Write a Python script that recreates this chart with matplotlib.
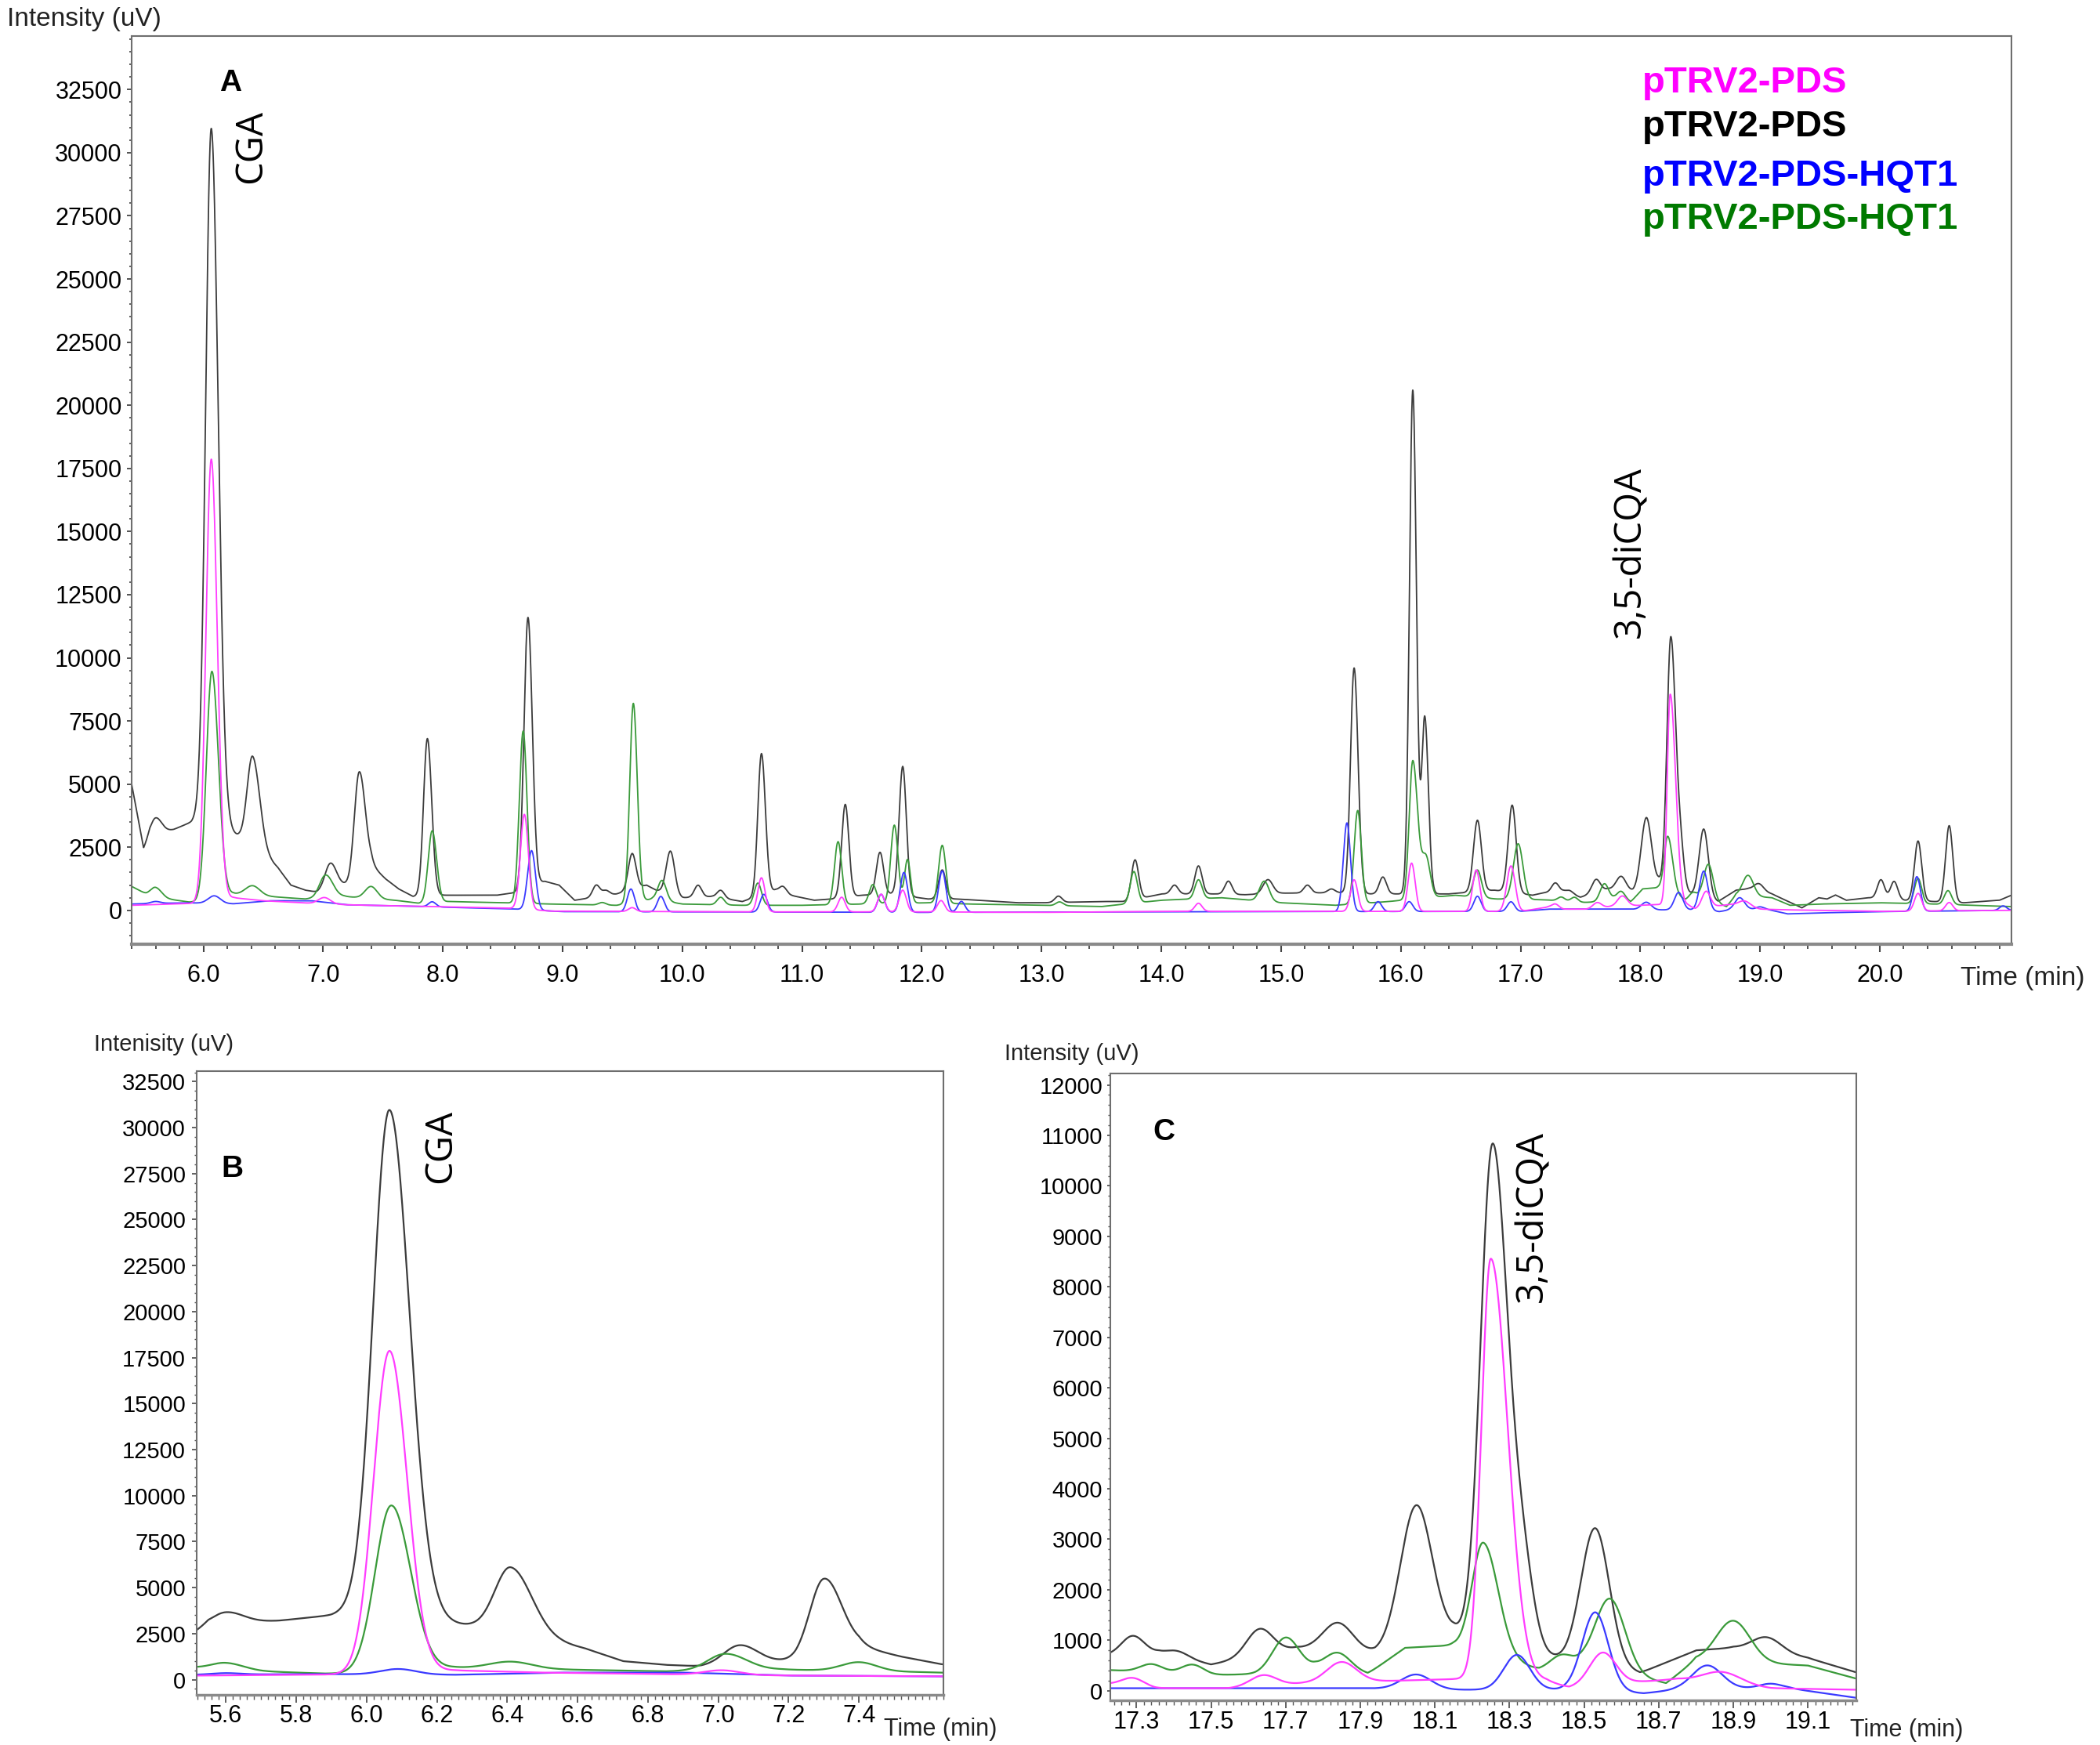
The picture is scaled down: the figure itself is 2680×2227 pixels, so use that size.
import numpy as np
import matplotlib
matplotlib.use("Agg")
import matplotlib.pyplot as plt
from matplotlib.ticker import MultipleLocator, FixedLocator

plt.rcParams["font.family"] = ["Liberation Sans", "DejaVu Sans"]

W, H = 2680, 2227

# ---- chromatogram data ----------------------------------------------------
# each trace = baseline knots (min, uV) + peak table (rt, height above
# baseline, left sigma, right sigma)

black_base_t = [5.40, 5.50, 5.55, 5.75, 5.90, 5.98, 6.30, 6.55, 6.62, 6.73, 6.85, 6.95,
                7.12, 7.22, 7.40, 7.52, 7.63, 7.75, 7.95, 8.45, 8.60, 8.85, 8.97, 9.10,
                9.45, 9.70, 9.78, 10.00, 10.25, 10.50, 10.78, 10.90, 11.10, 11.25, 11.50,
                11.75, 12.05, 12.30, 12.80, 13.00, 13.50, 13.70, 14.00, 14.45, 14.70,
                15.00, 15.50, 15.75, 16.00, 16.40, 16.78, 17.10, 17.20, 17.36, 17.50,
                17.73, 17.94, 18.15, 18.45, 18.65, 18.80, 18.90, 19.10, 19.35, 19.49,
                19.56, 19.63, 19.72, 19.90, 20.20, 20.45, 20.70, 21.00, 21.10]
black_base_v = [5000, 2450, 2950, 3200, 3500, 3800, 2900, 2000, 1700, 1000, 800, 720,
                950, 1050, 1800, 1250, 850, 550, 600, 600, 700, 1150, 1000, 400,
                650, 1000, 800, 500, 550, 350, 800, 600, 400, 450, 600,
                650, 450, 450, 300, 300, 350, 350, 650, 650, 620,
                680, 700, 650, 650, 650, 800, 600, 700, 750, 520,
                850, 750, 1150, 600, 350, 800, 850, 650, 100, 500,
                450, 610, 400, 500, 400, 350, 300, 400, 600]
black_rt = [5.60, 6.065, 6.41, 7.06, 7.30, 7.87, 8.71, 9.28, 9.36, 9.58, 9.90, 10.13,
            10.32, 10.66, 10.84, 11.36, 11.65, 11.84, 12.17, 13.14, 13.78, 14.11, 14.31,
            14.56, 14.89, 15.22, 15.42, 15.61, 15.85, 16.10, 16.20, 16.64, 16.93, 17.29,
            17.41, 17.63, 17.84, 18.05, 18.255, 18.335, 18.53, 18.99, 20.01, 20.12,
            20.32, 20.58]
black_h = [650, 27400, 3600, 1000, 4100, 6220, 10700, 470, 200, 1420, 1710, 470,
           300, 5600, 250, 3680, 1670, 5110, 1150, 250, 1570, 350, 1110,
           520, 560, 310, 150, 8920, 670, 19950, 6970, 2825, 3460, 360,
           120, 520, 550, 2715, 9840, 1500, 2720, 300, 750, 720,
           2370, 3030]
black_wl = [0.040, 0.046, 0.045, 0.045, 0.040, 0.032, 0.033, 0.030, 0.030, 0.032, 0.035, 0.030,
            0.030, 0.030, 0.030, 0.030, 0.030, 0.030, 0.030, 0.030, 0.030, 0.030, 0.030,
            0.030, 0.040, 0.030, 0.030, 0.030, 0.030, 0.028, 0.025, 0.033, 0.033, 0.030,
            0.030, 0.035, 0.040, 0.042, 0.032, 0.030, 0.038, 0.040, 0.030, 0.030,
            0.030, 0.030]
black_wr = [0.050, 0.057, 0.060, 0.050, 0.050, 0.036, 0.036, 0.030, 0.030, 0.032, 0.035, 0.030,
            0.030, 0.033, 0.030, 0.030, 0.030, 0.030, 0.030, 0.030, 0.030, 0.030, 0.030,
            0.030, 0.040, 0.030, 0.030, 0.033, 0.030, 0.030, 0.030, 0.033, 0.033, 0.030,
            0.030, 0.035, 0.040, 0.042, 0.040, 0.030, 0.038, 0.040, 0.030, 0.030,
            0.030, 0.030]

green_base_t = [5.40, 5.52, 5.70, 5.88, 6.00, 6.25, 6.55, 6.85, 7.18, 7.30, 7.60, 7.80,
                8.05, 8.50, 8.90, 9.45, 9.75, 10.00, 10.50, 11.00, 11.50, 12.05, 12.40,
                13.00, 13.50, 14.00, 14.50, 15.00, 15.45, 15.90, 16.45, 16.80, 17.20,
                17.50, 17.62, 17.78, 17.92, 18.02, 18.15, 18.38, 18.50, 18.72, 18.80,
                19.10, 19.25, 19.50, 20.00, 20.45, 21.10]
green_base_v = [950, 650, 450, 330, 320, 650, 550, 450, 550, 500, 400, 280,
                350, 300, 250, 200, 450, 250, 200, 200, 250, 300, 250,
                200, 150, 400, 500, 300, 200, 350, 600, 450, 420,
                310, 330, 450, 330, 850, 900, 420, 500, 150, 600,
                500, 200, 250, 300, 250, 150]
green_rt = [5.60, 6.07, 6.41, 7.02, 7.40, 7.91, 8.67, 9.33, 9.59, 9.83, 10.32, 10.63,
            11.30, 11.59, 11.77, 11.88, 12.17, 13.15, 13.77, 14.31, 14.86, 15.64, 16.10,
            16.21, 16.64, 16.98, 17.34, 17.45, 17.70, 17.84, 18.23, 18.44, 18.57, 18.90,
            20.32, 20.57]
green_h = [350, 9050, 380, 900, 480, 2840, 6820, 100, 7880, 800, 300, 880,
           2490, 760, 3100, 1730, 2290, 150, 1255, 750, 800, 3690, 5480,
           1600, 1080, 2200, 160, 190, 665, 355, 2200, 250, 1435, 820,
           1000, 550]
green_wl = [0.040, 0.046, 0.060, 0.050, 0.050, 0.033, 0.032, 0.030, 0.030, 0.035, 0.030, 0.030,
            0.030, 0.030, 0.030, 0.025, 0.030, 0.030, 0.030, 0.030, 0.040, 0.030, 0.030,
            0.035, 0.033, 0.040, 0.030, 0.030, 0.035, 0.035, 0.030, 0.030, 0.040, 0.045,
            0.030, 0.030]
green_wr = [0.050, 0.055, 0.060, 0.060, 0.050, 0.037, 0.032, 0.030, 0.033, 0.035, 0.030, 0.030,
            0.030, 0.030, 0.030, 0.025, 0.030, 0.030, 0.030, 0.030, 0.040, 0.030, 0.040,
            0.035, 0.033, 0.040, 0.030, 0.030, 0.035, 0.035, 0.040, 0.030, 0.040, 0.045,
            0.030, 0.030]

magenta_base_t = [5.40, 5.95, 6.25, 6.50, 6.90, 7.20, 7.60, 8.60, 8.90, 10.50, 12.00, 13.00,
                  14.00, 17.00, 17.23, 17.35, 17.55, 17.75, 18.00, 18.15, 18.40, 18.46,
                  18.65, 18.75, 19.00, 19.23, 20.00, 21.10]
magenta_base_v = [200, 280, 500, 380, 280, 220, 180, 80, -30, -60, -60, -80,
                  -40, -40, 130, 50, 50, 150, 200, 230, 200, 60,
                  180, 230, 50, 20, -40, 0]
magenta_rt = [6.065, 7.01, 8.68, 9.58, 10.66, 11.33, 11.66, 11.84, 12.16, 14.31, 15.61,
              16.09, 16.63, 16.92, 17.29, 17.64, 17.85, 18.25, 18.55, 18.87, 20.32, 20.58]
magenta_h = [17500, 250, 3750, 150, 1350, 580, 700, 860, 450, 320, 1250,
             1910, 1640, 1800, 165, 215, 400, 8340, 640, 230, 700, 330]
magenta_wl = [0.045, 0.050, 0.033, 0.030, 0.030, 0.030, 0.030, 0.030, 0.030, 0.030, 0.030,
              0.030, 0.030, 0.035, 0.030, 0.035, 0.040, 0.025, 0.035, 0.050, 0.030, 0.030]
magenta_wr = [0.050, 0.050, 0.033, 0.030, 0.030, 0.030, 0.030, 0.030, 0.030, 0.030, 0.030,
              0.030, 0.030, 0.035, 0.030, 0.035, 0.040, 0.045, 0.035, 0.050, 0.030, 0.030]

blue_base_t = [5.40, 5.85, 6.25, 6.55, 6.90, 7.20, 7.60, 8.60, 9.00, 12.00, 15.00, 17.00,
               17.23, 17.90, 18.15, 18.45, 18.66, 18.75, 18.95, 19.05, 19.23, 19.50,
               20.00, 21.10]
blue_base_v = [250, 300, 260, 380, 380, 220, 180, 50, -50, -80, -50, -40,
               50, 50, 20, 20, -50, 20, 50, 50, -140, -100,
               -50, 0]
blue_rt = [5.60, 6.09, 7.91, 8.74, 9.57, 9.82, 10.68, 11.66, 11.85, 12.17, 12.33, 15.55,
           15.81, 16.07, 16.64, 16.92, 18.05, 18.32, 18.53, 18.83, 19.00, 20.31, 21.03]
blue_h = [80, 300, 200, 2350, 900, 610, 700, 710, 1580, 1640, 430, 3510,
          390, 390, 600, 380, 290, 690, 1560, 470, 90, 1370, 180]
blue_wl = [0.040, 0.050, 0.030, 0.033, 0.030, 0.030, 0.030, 0.030, 0.030, 0.030, 0.030, 0.030,
           0.030, 0.030, 0.030, 0.030, 0.040, 0.035, 0.035, 0.040, 0.030, 0.030, 0.030]
blue_wr = blue_wl

# ---- styling --------------------------------------------------------------
LINE_COLORS = {"black": "#3c3c3c", "green": "#3a9a3a", "blue": "#3a3aff", "magenta": "#ff3dff"}
LEGEND = [("pTRV2-PDS", "#ff00ff"), ("pTRV2-PDS", "#000000"),
          ("pTRV2-PDS-HQT1", "#0000ff"), ("pTRV2-PDS-HQT1", "#007a00")]


def trace(t, base_t, base_v, rt, h, wl, wr):
    y = np.interp(t, base_t, base_v)
    for r, a, sl, sr in zip(rt, h, wl, wr):
        s = np.where(t < r, sl, sr)
        y = y + a * np.exp(-0.5 * ((t - r) / s) ** 2)
    return y


t = np.linspace(5.40, 21.10, 12001)
traces = {
    "black": trace(t, black_base_t, black_base_v, black_rt, black_h, black_wl, black_wr),
    "green": trace(t, green_base_t, green_base_v, green_rt, green_h, green_wl, green_wr),
    "blue": trace(t, blue_base_t, blue_base_v, blue_rt, blue_h, blue_wl, blue_wr),
    "magenta": trace(t, magenta_base_t, magenta_base_v, magenta_rt, magenta_h, magenta_wl, magenta_wr),
}


def fx(x):
    return x / W


def fy(y):
    return 1 - y / H


def axes_px(fig, left, top, right, bottom):
    return fig.add_axes([fx(left), fy(bottom), (right - left) / W, (bottom - top) / H])


def style(ax, lw_bottom=3.0):
    for s in ax.spines.values():
        s.set_color("#6e6e6e")
        s.set_linewidth(1.5)
    ax.spines["bottom"].set_linewidth(lw_bottom)
    ax.spines["bottom"].set_color("#8a8a8a")


fig = plt.figure(figsize=(W / 100, H / 100), dpi=100)

# ---------------- panel A ----------------
axA = axes_px(fig, 168, 46, 2567, 1205)
for key in ["black", "green", "blue", "magenta"]:
    axA.plot(t, traces[key], color=LINE_COLORS[key], lw=1.3)
axA.set_xlim(5.40, 21.10)
axA.set_ylim(-1340, 34620)
axA.xaxis.set_major_locator(FixedLocator(np.arange(6, 21, 1.0)))
axA.xaxis.set_minor_locator(MultipleLocator(0.2))
axA.xaxis.set_major_formatter(matplotlib.ticker.FormatStrFormatter("%.1f"))
axA.yaxis.set_major_locator(FixedLocator(np.arange(0, 32501, 2500)))
axA.yaxis.set_minor_locator(MultipleLocator(500))
axA.tick_params(axis="x", which="major", length=7, width=1.5, pad=11, labelsize=22, color="#444444")
axA.tick_params(axis="x", which="minor", length=4, width=1.3, color="#444444")
axA.tick_params(axis="y", which="major", length=4, width=1.3, pad=5, labelsize=22, color="#444444")
axA.tick_params(axis="y", which="minor", length=2, width=1.2, color="#444444")
style(axA)

# ---------------- panel B ----------------
axB = axes_px(fig, 251, 1367, 1204, 2163)
for key in ["black", "green", "blue", "magenta"]:
    axB.plot(t, traces[key], color=LINE_COLORS[key], lw=1.6)
axB.set_xlim(5.517, 7.64)
axB.set_ylim(-830, 33070)
axB.xaxis.set_major_locator(FixedLocator(np.arange(5.6, 7.41, 0.2)))
axB.xaxis.set_minor_locator(MultipleLocator(0.02))
axB.xaxis.set_major_formatter(matplotlib.ticker.FormatStrFormatter("%.1f"))
axB.yaxis.set_major_locator(FixedLocator(np.arange(0, 32501, 2500)))
axB.yaxis.set_minor_locator(MultipleLocator(500))
axB.tick_params(axis="x", which="major", length=7, width=1.3, pad=2, labelsize=22, color="#555555")
axB.tick_params(axis="x", which="minor", length=4, width=1.0, color="#555555")
axB.tick_params(axis="y", which="major", length=4, width=1.3, pad=6, labelsize=21, color="#555555")
axB.tick_params(axis="y", which="minor", length=2, width=1.0, color="#555555")
style(axB, 2.5)

# ---------------- panel C ----------------
axC = axes_px(fig, 1417, 1370, 2369, 2170)
for key in ["black", "green", "blue", "magenta"]:
    axC.plot(t, traces[key], color=LINE_COLORS[key], lw=1.6)
axC.set_xlim(17.23, 19.23)
axC.set_ylim(-190, 12226)
axC.xaxis.set_major_locator(FixedLocator(np.arange(17.3, 19.11, 0.2)))
axC.xaxis.set_minor_locator(MultipleLocator(0.02))
axC.xaxis.set_major_formatter(matplotlib.ticker.FormatStrFormatter("%.1f"))
axC.yaxis.set_major_locator(FixedLocator(np.arange(0, 12001, 1000)))
axC.yaxis.set_minor_locator(MultipleLocator(200))
axC.tick_params(axis="x", which="major", length=7, width=1.3, pad=2, labelsize=22, color="#555555")
axC.tick_params(axis="x", which="minor", length=4, width=1.0, color="#555555")
axC.tick_params(axis="y", which="major", length=3, width=1.3, pad=4, labelsize=21, color="#555555")
axC.tick_params(axis="y", which="minor", length=2, width=1.0, color="#555555")
style(axC, 2.5)

# ---------------- text ----------------
fig.text(fx(9), fy(24), "Intensity (uV)", fontsize=24, ha="left", va="center", color="#222222")
fig.text(fx(120), fy(1333), "Intenisity (uV)", fontsize=21, ha="left", va="center", color="#222222")
fig.text(fx(1282), fy(1345), "Intensity (uV)", fontsize=21, ha="left", va="center", color="#222222")
fig.text(fx(2502), fy(1248), "Time (min)", fontsize=24, ha="left", va="center", color="#222222")
fig.text(fx(1128), fy(2207), "Time (min)", fontsize=22, ha="left", va="center", color="#222222")
fig.text(fx(2361), fy(2208), "Time (min)", fontsize=22, ha="left", va="center", color="#222222")

for label, (x, y) in [("A", (294, 106)), ("B", (296, 1492)), ("C", (1485, 1445))]:
    fig.text(fx(x), fy(y), label, fontsize=28, fontweight="bold", ha="center", va="center")

for label, (x, y) in [("CGA", (320, 187)), ("CGA", (562, 1463)),
                      ("3,5-diCQA", (2081, 705)), ("3,5-diCQA", (1956, 1553))]:
    fig.text(fx(x), fy(y), label, fontsize=34, rotation=90, ha="center", va="center",
             family=["Open Sans", "DejaVu Sans"])

for (label, color), y in zip(LEGEND, [106, 162, 225, 280]):
    fig.text(fx(2096), fy(y), label, fontsize=34, fontweight="bold", color=color,
             ha="left", va="center")

fig.savefig("out.png", dpi=100)
